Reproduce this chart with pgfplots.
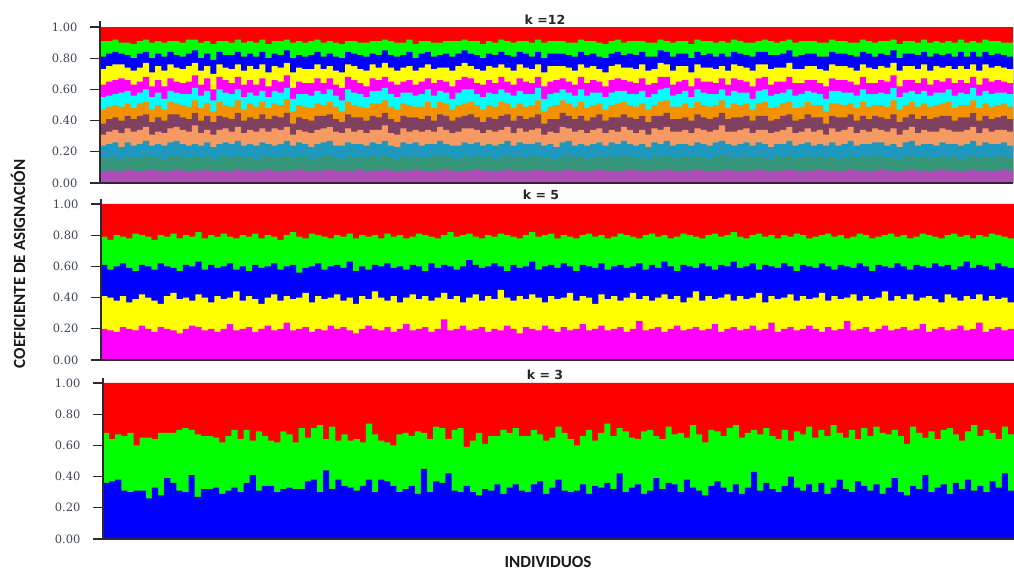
\documentclass[border=0pt]{standalone}
\usepackage{fontspec}
\setmainfont{DejaVu Serif}
\newfontfamily\carlito{Carlito}
\newfontfamily\dejasans{DejaVu Sans}
\usepackage{pgfplots}
\usepackage{pgfplotstable}
\pgfplotsset{compat=1.18}

\definecolor{cR}{RGB}{255,0,0}
\definecolor{cG}{RGB}{0,255,0}
\definecolor{cB}{RGB}{0,0,255}
\definecolor{cY}{RGB}{255,255,0}
\definecolor{cM}{RGB}{255,0,255}
\definecolor{cC}{RGB}{0,255,255}
\definecolor{cOr}{RGB}{243,146,0}
\definecolor{cPl}{RGB}{128,64,96}
\definecolor{cSa}{RGB}{245,154,98}
\definecolor{cBt}{RGB}{30,152,190}
\definecolor{cTe}{RGB}{53,150,122}
\definecolor{cPu}{RGB}{176,76,184}
\definecolor{tickc}{RGB}{60,70,88}
\definecolor{axc}{RGB}{45,40,50}

% k = 12 : cumulative upper limits of clusters 1..11 (in %)
\pgfplotstableread{
a b c d e f g h i j k
7 16 24 31 38 47 55 63 73 81 91
8 16 25 33 41 49 56 65 75 83 91
8 17 26 34 42 50 57 66 76 84 92
7 15 23 32 40 49 58 67 76 83 90
9 17 26 35 43 51 59 66 74 82 90
8 16 24 33 41 48 56 63 72 80 89
7 16 25 34 43 51 58 65 74 83 91
8 18 27 36 44 52 60 68 77 84 92
9 17 24 31 39 47 55 62 71 80 90
8 16 25 33 42 50 58 66 75 83 91
7 15 24 32 40 47 54 62 72 81 90
8 17 26 35 44 52 59 67 76 84 91
9 18 27 36 44 51 58 65 74 82 91
8 16 25 34 42 50 57 64 73 81 90
7 16 24 33 41 49 57 65 75 83 92
8 17 25 37 45 53 61 69 77 85 92
8 16 24 32 40 48 56 63 72 80 90
9 17 26 34 43 51 59 67 75 83 91
7 15 23 31 39 46 53 60 70 79 89
8 16 25 34 43 52 60 68 76 84 91
8 17 26 35 42 50 58 66 74 82 91
7 16 25 33 41 49 57 64 73 82 90
9 18 27 36 45 53 60 68 76 84 92
8 16 24 32 40 47 55 63 72 81 90
8 17 25 34 42 51 58 66 75 83 91
7 15 24 33 41 49 56 63 73 81 90
8 16 26 35 44 52 59 67 76 84 92
9 17 25 33 41 48 55 62 71 80 89
8 16 24 35 43 51 59 66 75 83 91
7 16 25 34 42 50 58 65 74 82 91
8 18 27 36 45 54 61 69 77 85 92
8 16 24 31 38 46 54 61 71 80 90
9 17 26 34 42 50 57 65 74 82 91
8 17 25 33 41 49 57 64 73 81 90
7 15 23 32 40 48 56 64 73 82 91
8 16 25 34 43 51 59 67 76 84 92
8 17 26 35 43 50 57 64 73 81 90
9 18 27 36 44 52 60 67 75 83 91
8 16 24 33 41 49 56 63 72 81 90
7 15 24 32 39 46 53 61 71 80 89
8 17 26 35 44 52 60 68 76 84 91
8 16 25 33 42 50 58 66 75 83 91
9 17 25 34 42 49 57 64 73 82 90
7 16 24 32 40 48 55 62 72 81 90
8 17 26 34 43 51 59 67 76 83 91
8 16 25 34 42 51 59 66 74 82 91
9 18 27 37 45 53 61 68 77 85 92
8 16 24 32 41 49 57 65 74 82 91
7 15 23 31 39 47 55 63 72 81 90
8 17 26 35 43 51 58 65 74 82 90
8 16 25 33 42 50 58 66 75 84 92
9 17 26 34 42 49 56 63 72 80 89
8 16 24 33 41 49 57 65 74 83 91
7 16 25 34 43 52 60 67 76 84 91
8 17 25 33 40 48 56 64 73 81 90
8 18 27 36 44 52 59 66 74 82 90
9 17 25 34 43 51 58 65 74 83 91
8 16 24 32 40 47 54 62 72 81 91
7 15 24 33 42 50 58 66 75 83 91
8 17 26 35 43 51 60 68 77 85 92
8 16 25 35 44 52 60 67 75 83 91
9 17 26 34 42 50 57 64 73 82 91
8 16 24 32 39 47 55 63 72 80 89
8 17 25 34 42 50 58 66 75 83 91
7 15 24 33 41 49 57 64 74 82 90
8 16 25 34 43 52 60 68 76 84 92
9 18 27 36 44 51 58 65 74 82 91
8 16 24 32 40 48 56 63 72 81 90
8 17 26 35 43 51 59 67 76 84 91
7 16 25 33 41 49 57 65 74 83 91
8 17 25 34 42 50 57 64 73 81 90
9 17 26 35 44 53 61 68 76 84 92
8 16 24 31 38 46 54 62 71 80 90
8 16 25 33 41 49 57 65 75 83 91
7 15 23 32 41 50 58 66 75 83 91
8 17 26 36 45 53 60 67 75 83 91
9 18 27 35 43 51 58 65 74 82 90
8 16 24 33 41 49 56 63 72 81 90
8 17 25 34 43 52 60 68 76 84 92
7 15 24 32 40 48 56 64 74 82 91
8 16 25 34 42 50 58 66 75 83 91
9 17 26 35 44 51 58 65 73 81 90
8 16 24 32 40 47 55 62 71 80 89
8 17 26 34 42 50 58 66 75 83 91
7 16 25 33 42 51 59 67 76 84 92
8 18 27 36 44 52 59 66 74 82 90
9 17 25 34 42 50 57 65 74 83 91
8 16 24 32 41 49 57 64 73 82 91
8 16 25 34 43 51 59 67 76 84 91
7 15 23 31 39 47 55 63 72 81 90
8 17 26 35 43 50 57 64 73 81 90
8 16 25 34 43 52 60 68 77 85 92
9 18 27 36 45 53 61 68 76 84 91
8 16 24 33 41 49 56 63 72 81 90
7 16 25 33 41 49 57 65 75 83 91
8 17 25 34 42 51 59 66 75 83 91
8 16 24 32 40 48 55 62 71 80 89
9 17 26 35 44 52 60 67 76 84 92
8 16 25 34 42 50 58 65 74 82 91
7 15 24 33 41 49 57 65 74 83 91
8 17 26 34 42 50 57 64 73 81 90
8 18 27 37 45 53 60 67 75 83 91
9 17 25 33 41 48 56 63 72 81 90
8 16 24 33 42 51 59 67 76 84 92
7 16 25 34 42 50 58 66 75 83 91
8 17 26 35 43 51 58 65 74 82 90
8 16 24 32 40 47 54 62 72 81 90
9 17 26 34 43 51 59 67 76 84 91
8 16 25 34 43 52 60 68 76 84 92
7 15 23 32 40 48 56 63 73 82 91
8 17 25 33 41 49 57 65 74 82 90
8 16 25 34 43 51 58 65 74 83 91
9 18 27 36 44 52 60 68 77 85 92
8 16 24 32 40 48 56 64 73 81 90
7 16 25 33 41 49 57 64 73 82 91
8 17 26 35 44 52 59 66 75 83 91
8 16 24 33 42 50 58 66 75 83 91
9 17 25 34 42 50 57 64 73 81 90
8 16 24 31 38 46 54 62 72 81 90
8 17 26 35 43 51 59 67 76 84 92
7 15 24 33 42 51 59 66 75 83 91
8 16 25 34 42 50 58 66 75 83 91
9 18 27 36 44 51 58 65 74 82 90
8 16 24 32 40 48 56 63 72 81 90
8 17 25 34 43 52 60 68 76 84 92
7 16 25 33 41 49 57 64 74 83 91
8 17 26 35 43 50 57 64 73 81 90
9 17 26 34 42 50 58 66 75 83 91
8 16 24 33 41 49 57 65 74 82 91
8 16 25 35 44 53 61 69 77 85 92
7 15 23 31 39 47 55 62 72 80 89
8 17 26 34 42 50 58 66 75 83 91
9 18 27 36 44 52 59 66 75 83 91
8 16 24 32 41 49 57 64 73 82 90
8 17 25 34 43 51 59 67 76 84 92
7 16 25 33 41 49 56 63 72 81 90
8 16 24 33 42 50 58 66 75 83 91
9 17 26 35 43 51 58 65 74 82 90
8 16 25 34 43 52 60 67 75 83 91
8 17 25 33 40 48 56 64 73 81 90
7 15 24 33 42 50 58 66 75 84 92
8 16 25 34 42 50 57 64 73 81 90
9 18 27 36 45 53 61 68 76 84 91
8 16 24 32 40 48 56 63 72 81 90
8 17 26 35 43 51 59 67 76 84 92
7 16 25 33 41 49 57 65 74 82 91
8 17 25 34 42 50 58 66 75 83 91
9 17 26 34 43 51 58 65 74 82 90
8 16 24 33 41 49 57 64 73 81 90
8 16 25 34 42 50 58 66 75 83 91
}\tabA

% k = 5 : cumulative upper limits of clusters 1..4 (in %)
\pgfplotstableread{
a b c d
20 41 61 79
19 40 58 77
18 38 60 80
21 41 62 79
20 37 59 78
19 39 57 81
22 42 61 80
20 40 60 79
18 38 58 77
21 36 62 80
20 41 60 79
19 43 59 81
17 39 57 78
20 40 61 80
22 38 60 79
21 42 63 82
19 40 58 78
20 37 61 80
18 41 59 79
20 39 60 81
23 40 62 79
19 44 58 78
20 38 60 80
21 41 57 79
18 39 61 81
20 36 59 78
22 40 60 80
19 42 62 79
20 38 58 77
24 41 60 80
19 39 61 82
20 40 56 79
21 43 59 78
18 37 60 81
20 41 62 80
19 39 58 79
22 40 60 78
20 42 61 80
21 38 59 79
19 40 63 81
17 36 57 78
20 41 60 80
22 39 58 79
20 44 61 80
19 40 60 78
21 38 62 81
18 41 59 79
20 37 60 80
23 40 58 78
19 42 61 79
20 39 60 81
21 41 57 80
18 38 62 79
20 40 59 78
26 43 61 80
19 39 60 82
20 41 58 79
22 37 60 80
19 40 64 81
20 42 61 79
21 38 59 78
18 41 60 80
20 39 62 79
19 45 60 81
22 40 57 80
20 38 61 79
17 41 59 78
21 39 60 80
20 42 63 82
19 40 58 79
22 37 60 80
20 41 61 81
18 39 59 78
21 40 62 80
19 43 60 79
20 38 57 78
23 41 61 80
19 40 60 81
20 36 59 79
22 42 62 80
19 39 58 78
20 41 60 79
21 38 61 81
18 40 59 80
20 43 60 79
25 39 62 78
19 41 58 80
20 38 61 81
21 40 59 79
18 42 63 80
20 39 60 78
22 41 57 79
19 37 61 81
20 40 60 80
21 44 59 79
19 38 62 78
20 41 60 80
23 39 58 81
18 40 61 79
20 42 60 80
21 38 63 82
19 41 59 79
20 39 60 78
22 40 62 80
19 43 58 81
20 37 61 79
24 41 60 80
18 39 59 78
20 40 62 80
21 42 60 79
19 38 57 81
20 41 61 80
22 39 60 78
20 40 59 79
18 43 62 80
21 38 60 81
19 41 58 79
20 39 61 80
25 40 60 78
19 42 59 79
20 38 62 81
21 41 60 80
18 39 57 78
20 40 61 79
22 44 60 80
19 38 59 81
20 41 62 79
21 39 60 80
19 42 58 78
20 38 61 79
23 40 60 81
18 41 59 80
20 39 62 79
21 37 60 78
19 42 61 80
20 40 58 81
22 38 60 79
19 41 63 80
20 39 59 78
24 42 61 80
18 38 60 79
20 41 58 81
21 39 62 80
19 40 60 79
20 37 59 78
22 43 61 80
}\tabB

% k = 3 : cumulative upper limits of clusters 1..2 (in %)
\pgfplotstableread{
a b
36 68
37 64
38 67
31 66
30 68
31 60
31 65
26 65
33 64
28 68
39 68
36 68
31 70
30 71
41 70
27 67
32 66
32 66
33 65
29 62
31 66
33 70
30 64
36 70
41 63
31 69
34 66
34 63
30 62
32 69
33 67
32 62
32 71
37 65
38 71
30 73
44 64
32 72
38 63
34 67
33 63
31 64
34 62
38 74
30 67
38 63
37 62
34 60
30 67
32 68
34 66
29 69
45 68
30 64
37 72
36 71
42 64
31 70
30 71
34 59
30 63
28 68
32 61
31 66
35 66
29 70
33 68
35 71
31 66
30 66
35 70
37 67
29 63
33 65
38 72
31 68
30 64
31 60
35 66
29 70
34 63
33 68
36 74
32 66
42 71
30 69
33 65
35 64
29 69
31 70
39 66
32 64
36 72
35 67
30 68
38 65
33 73
31 67
28 62
34 70
37 69
33 66
30 71
35 73
29 65
33 68
43 70
31 67
36 71
32 66
30 64
34 70
40 63
33 69
31 67
35 72
30 65
36 70
29 66
33 73
38 68
32 65
30 70
37 64
34 71
31 66
35 72
29 68
33 67
39 70
30 66
28 61
34 72
32 68
41 65
30 69
33 64
35 70
29 71
36 67
32 63
38 69
31 73
34 66
30 70
37 68
33 64
42 72
31 67
35 66
}\tabC

\pgfplotsset{
  strbase/.style={
    scale only axis,
    width=913pt,
    xmin=0, ymin=0,
    axis on top,
    axis x line*=bottom, axis y line*=left,
    axis line style={-, draw=axc, line width=1.8pt},
    xtick=\empty,
    ytick={0,20,40,60,80,100},
    yticklabels={0.00,0.20,0.40,0.60,0.80,1.00},
    tick align=outside,
    major tick length=10pt,
    every tick/.style={draw=axc, line width=1.1pt},
    yticklabel style={font=\fontsize{11.5}{13}\selectfont, text=tickc, xshift=-9pt},
  },
  layer/.style={draw=none, fill=#1, const plot mark left},
}

\begin{document}
\begin{tikzpicture}
\path[use as bounding box] (0pt,0pt) rectangle (1014pt,570pt);

\pgfplotstablegetrowsof{\tabA}\pgfmathtruncatemacro\nA{\pgfplotsretval-1}
\pgfplotstablegetrowsof{\tabB}\pgfmathtruncatemacro\nB{\pgfplotsretval-1}
\pgfplotstablegetrowsof{\tabC}\pgfmathtruncatemacro\nC{\pgfplotsretval-1}

% ---------- k = 12 ----------
\begin{axis}[strbase, at={(100pt,387pt)}, anchor=south west,
  height=162.2pt, ymax=104, xmax=\nA]
  \addplot[layer=cR] table[x expr=\coordindex, y expr=100]{\tabA} \closedcycle;
  \addplot[layer=cG] table[x expr=\coordindex, y=k]{\tabA} \closedcycle;
  \addplot[layer=cB] table[x expr=\coordindex, y=j]{\tabA} \closedcycle;
  \addplot[layer=cY] table[x expr=\coordindex, y=i]{\tabA} \closedcycle;
  \addplot[layer=cM] table[x expr=\coordindex, y=h]{\tabA} \closedcycle;
  \addplot[layer=cC] table[x expr=\coordindex, y=g]{\tabA} \closedcycle;
  \addplot[layer=cOr] table[x expr=\coordindex, y=f]{\tabA} \closedcycle;
  \addplot[layer=cPl] table[x expr=\coordindex, y=e]{\tabA} \closedcycle;
  \addplot[layer=cSa] table[x expr=\coordindex, y=d]{\tabA} \closedcycle;
  \addplot[layer=cBt] table[x expr=\coordindex, y=c]{\tabA} \closedcycle;
  \addplot[layer=cTe] table[x expr=\coordindex, y=b]{\tabA} \closedcycle;
  \addplot[layer=cPu] table[x expr=\coordindex, y=a]{\tabA} \closedcycle;
\end{axis}

% ---------- k = 5 ----------
\begin{axis}[strbase, at={(101pt,210pt)}, anchor=south west,
  height=160.7pt, ymax=103, xmax=\nB]
  \addplot[layer=cR] table[x expr=\coordindex, y expr=100]{\tabB} \closedcycle;
  \addplot[layer=cG] table[x expr=\coordindex, y=d]{\tabB} \closedcycle;
  \addplot[layer=cB] table[x expr=\coordindex, y=c]{\tabB} \closedcycle;
  \addplot[layer=cY] table[x expr=\coordindex, y=b]{\tabB} \closedcycle;
  \addplot[layer=cM] table[x expr=\coordindex, y=a]{\tabB} \closedcycle;
\end{axis}

% ---------- k = 3 ----------
\begin{axis}[strbase, at={(103pt,31pt)}, anchor=south west,
  width=911pt, height=160.7pt, ymax=103, xmax=\nC]
  \addplot[layer=cR] table[x expr=\coordindex, y expr=100]{\tabC} \closedcycle;
  \addplot[layer=cG] table[x expr=\coordindex, y=b]{\tabC} \closedcycle;
  \addplot[layer=cB] table[x expr=\coordindex, y=a]{\tabC} \closedcycle;
\end{axis}

% titles and axis labels
\node[font=\dejasans\bfseries\fontsize{12.5}{14}\selectfont, text=black!85] at (545pt,550pt) {k =12};
\node[font=\dejasans\bfseries\fontsize{12.5}{14}\selectfont, text=black!85] at (541pt,375pt) {k = 5};
\node[font=\dejasans\bfseries\fontsize{12.5}{14}\selectfont, text=black!85] at (545pt,195pt) {k = 3};
\node[font=\carlito\bfseries\fontsize{17}{20}\selectfont, text=black!90] at (548pt,8pt) {INDIVIDUOS};
\node[rotate=90, font=\carlito\bfseries\fontsize{17}{20}\selectfont, text=black!90] at (18pt,306pt) {COEFICIENTE DE ASIGNACIÓN};
\end{tikzpicture}
\end{document}
